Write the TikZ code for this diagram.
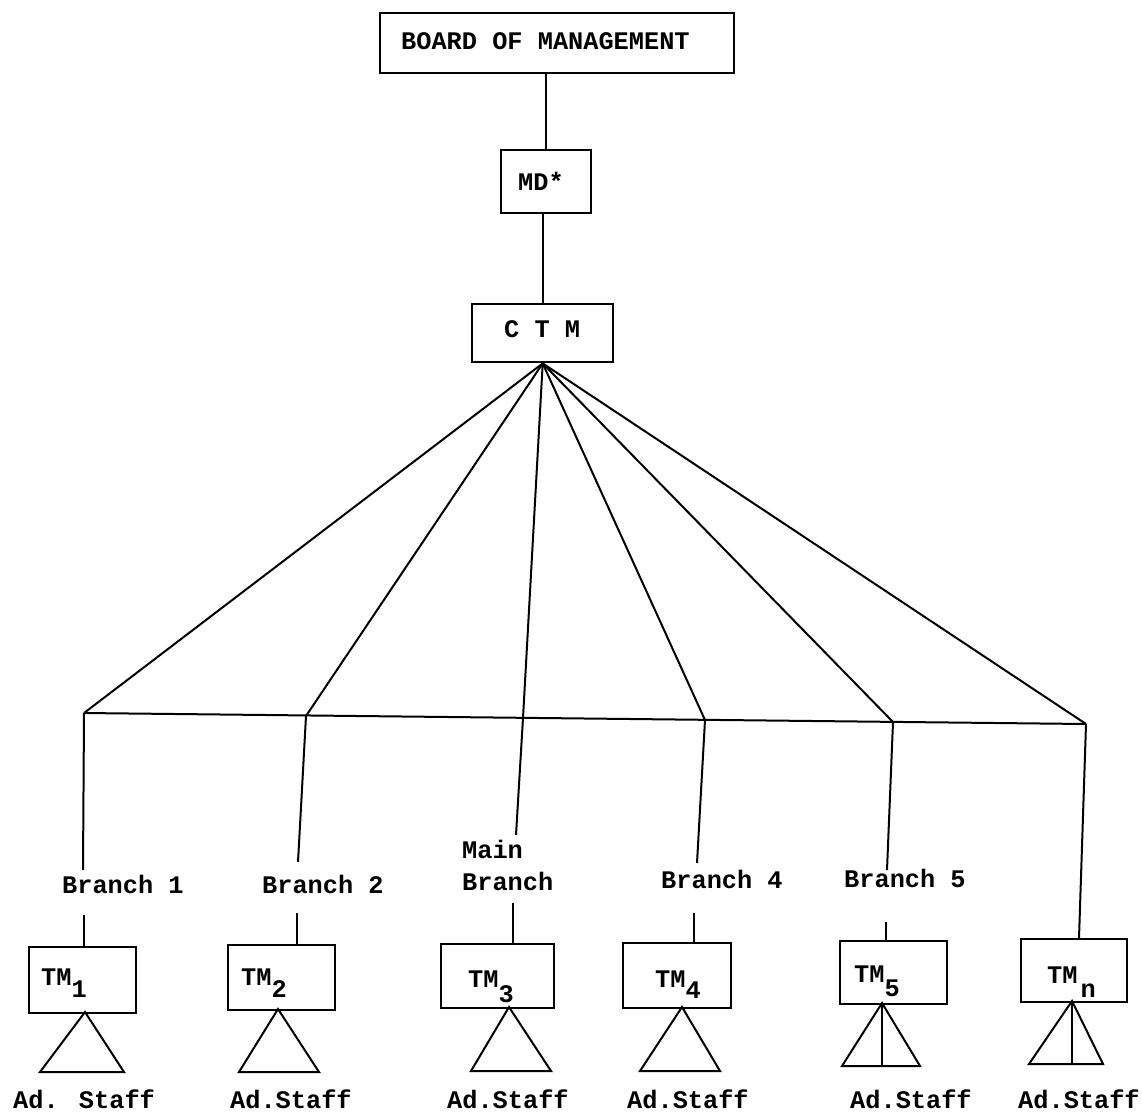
\documentclass[tikz,border=0pt]{standalone}
\usepackage{fontspec}
\newfontfamily\tw{Liberation Mono}
\begin{document}
\begin{tikzpicture}[x=1pt,y=-1pt,
  box/.style={draw, line width=2.4pt, inner sep=0pt, anchor=north west},
  conn/.style={line width=2pt},
  tri/.style={line width=2pt, line join=miter},
  txt/.style={inner sep=0pt, font=\tw\bfseries\fontsize{25.3}{30.5}\selectfont}]
\useasboundingbox (0,0) rectangle (1142,1113);
\fill[white] (0,0) rectangle (1142,1113);

% top chain
\node[box, minimum width=354pt, minimum height=60pt] (board) at (379,12) {};
\node[txt, anchor=base west] (boardt) at (401,50) {BOARD OF MANAGEMENT};
\node[box, minimum width=90pt, minimum height=63pt] (md) at (500,149) {};
\node[txt, anchor=base west] (mdt) at (518,190) {MD*};
\node[box, minimum width=141pt, minimum height=58pt] (ctm) at (471,303) {};
\node[txt, anchor=base west] (ctmt) at (504,337) {C T M};
\draw[conn] (board.south -| md.north) -- (md.north);
\draw[conn] (ctm.north |- md.south) -- (ctm.north);

% joints on the horizontal bar
\coordinate (j1) at (84,713);
\coordinate (j2) at (306,716);
\coordinate (j3) at (523,718);
\coordinate (j4) at (705,720);
\coordinate (j5) at (893,722);
\coordinate (j6) at (1086,724);
\draw[conn] (j1) -- (j6);
\foreach \j in {j1,j2,j3,j4,j5,j6} \draw[conn] (ctm.south) -- (\j);

% branch labels
\node[txt, anchor=base west] (b1) at (62,893) {Branch 1};
\node[txt, anchor=base west] (b2) at (262,893) {Branch 2};
\node[txt, anchor=base west] (b3a) at (462,858) {Main};
\node[txt, anchor=base west] (b3) at (462,890) {Branch};
\node[txt, anchor=base west] (b4) at (661,888) {Branch 4};
\node[txt, anchor=base west] (b5) at (844,887) {Branch 5};

% ends of the upper branch lines
\coordinate (e1) at (83,870);
\coordinate (e2) at (298,862);
\coordinate (e3) at (516,835);
\coordinate (e4) at (697,863);
\coordinate (e5) at (887,870);
\draw[conn] (j1) -- (e1);
\draw[conn] (j2) -- (e2);
\draw[conn] (j3) -- (e3);
\draw[conn] (j4) -- (e4);
\draw[conn] (j5) -- (e5);

% TM boxes
\node[box, minimum width=107pt, minimum height=66pt] (tm1) at (28,946) {};
\node[box, minimum width=107pt, minimum height=65pt] (tm2) at (227,944) {};
\node[box, minimum width=113pt, minimum height=64pt] (tm3) at (440,943) {};
\node[box, minimum width=108pt, minimum height=65pt] (tm4) at (622,942) {};
\node[box, minimum width=107pt, minimum height=63pt] (tm5) at (839,940) {};
\node[box, minimum width=106pt, minimum height=63pt] (tmn) at (1020,938) {};

\node[txt, anchor=base west] (tm1t) at (41,985) {TM\raisebox{-12pt}{1}};
\node[txt, anchor=base west] (tm2t) at (241,985) {TM\raisebox{-12pt}{2}};
\node[txt, anchor=base west] (tm3t) at (468,987) {TM\raisebox{-15pt}{3}};
\node[txt, anchor=base west] (tm4t) at (655,987) {TM\raisebox{-11pt}{4}};
\node[txt, anchor=base west] (tm5t) at (854,982) {TM\raisebox{-14pt}{5}};
\node[txt, anchor=base west] (tmnt) at (1047,983) {TM\kern3pt\raisebox{-14pt}{n}};

% lower branch lines
\coordinate (s1) at (84,915);
\coordinate (s2) at (297,913);
\coordinate (s3) at (513,903);
\coordinate (s4) at (694,913);
\coordinate (s5) at (886,922);
\draw[conn] (s1) -- (s1 |- tm1.north);
\draw[conn] (s2) -- (s2 |- tm2.north);
\draw[conn] (s3) -- (s3 |- tm3.north);
\draw[conn] (s4) -- (s4 |- tm4.north);
\draw[conn] (s5) -- (s5 |- tm5.north);
\coordinate (en) at (1079,938);
\draw[conn] (j6) -- (en);

% staff triangles
\draw[tri] (85,1012) -- (40,1072) -- (124,1072) -- cycle;
\draw[tri] (278,1009) -- (239,1072) -- (319,1072) -- cycle;
\draw[tri] (509,1007) -- (471,1071) -- (551,1071) -- cycle;
\draw[tri] (682,1007) -- (640,1071) -- (720,1071) -- cycle;
\draw[tri] (882,1003) -- (842,1066) -- (920,1066) -- cycle;
\draw[tri] (882,1003) -- (882,1066);
\draw[tri] (1072,1001) -- (1029,1064) -- (1103,1064) -- cycle;
\draw[tri] (1072,1001) -- (1072,1064);

% staff labels
\node[txt, anchor=base west] (ad1) at (13,1108) {Ad. Staff};
\node[txt, anchor=base west] (ad2) at (230,1108) {Ad.Staff};
\node[txt, anchor=base west] (ad3) at (447,1108) {Ad.Staff};
\node[txt, anchor=base west] (ad4) at (627,1108) {Ad.Staff};
\node[txt, anchor=base west] (ad5) at (850,1108) {Ad.Staff};
\node[txt, anchor=base west] (ad6) at (1018,1108) {Ad.Staff};
\end{tikzpicture}
\end{document}
